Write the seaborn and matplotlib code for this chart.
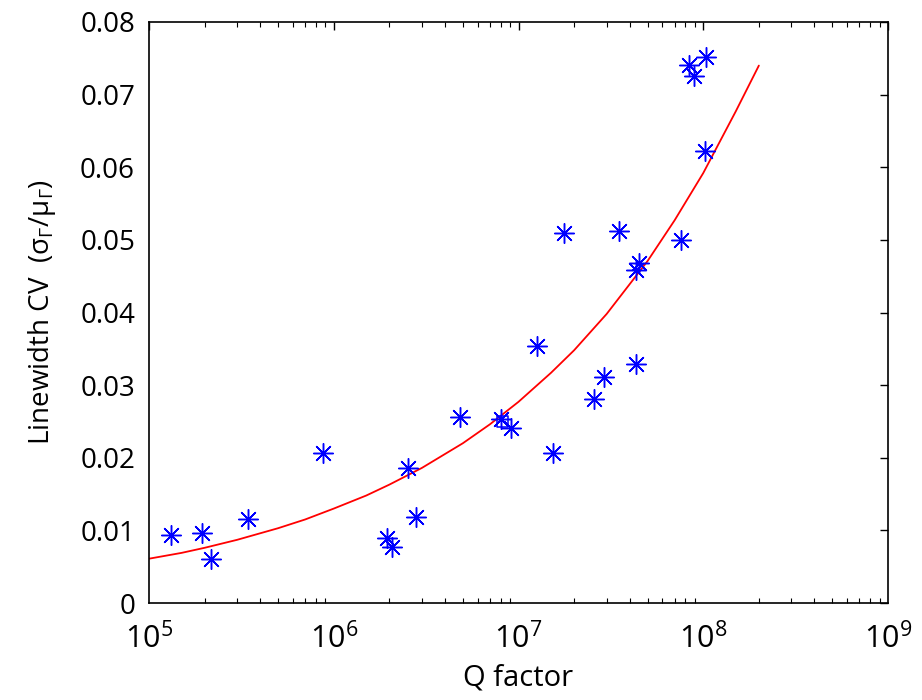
import numpy as np
import pandas as pd
import matplotlib
matplotlib.use("Agg")
import matplotlib.pyplot as plt
import seaborn as sns
from matplotlib.ticker import LogLocator, LogFormatterMathtext, FixedFormatter, FixedLocator

# --- data ---
q_factor = [1.31e5, 1.93e5, 2.16e5, 3.42e5, 8.8e5, 1.93e6, 2.07e6, 2.52e6, 2.79e6,
            4.8e6, 8.0e6, 9.06e6, 1.26e7, 1.53e7, 1.77e7, 2.56e7, 2.92e7, 3.52e7,
            4.32e7, 4.32e7, 4.47e7, 7.57e7, 8.4e7, 8.87e7, 1.02e8, 1.04e8]
linewidth_cv = [0.0093, 0.0097, 0.0061, 0.0116, 0.0207, 0.0089, 0.0077, 0.0186, 0.0119,
                0.0256, 0.0253, 0.0241, 0.0354, 0.0206, 0.0509, 0.0281, 0.0311, 0.0512,
                0.0329, 0.0459, 0.0468, 0.0500, 0.0741, 0.0726, 0.0622, 0.0752]

highlight_q = [8.2e6]
highlight_cv = [0.0250]

fit_q = [1e5, 1.5e5, 2e5, 3e5, 5e5, 7e5, 1e6, 1.5e6, 2e6, 3e6, 5e6, 7e6,
         1e7, 1.5e7, 2e7, 3e7, 5e7, 7e7, 1e8, 1.5e8, 2e8]
fit_cv = [0.0061, 0.0069, 0.0076, 0.0087, 0.0103, 0.0115, 0.0130, 0.0148, 0.0163,
          0.0186, 0.0220, 0.0246, 0.0277, 0.0317, 0.0348, 0.0398, 0.0471, 0.0527,
          0.0592, 0.0677, 0.0740]

y_ticks = [0, 0.01, 0.02, 0.03, 0.04, 0.05, 0.06, 0.07, 0.08]
y_ticklabels = ["0", "0.01", "0.02", "0.03", "0.04", "0.05", "0.06", "0.07", "0.08"]

df_pts = pd.DataFrame({"Q": q_factor, "CV": linewidth_cv})
df_fit = pd.DataFrame({"Q": fit_q, "CV": fit_cv})
df_hl = pd.DataFrame({"Q": highlight_q, "CV": highlight_cv})

sns.set_style("white")
plt.rcParams["font.family"] = ["Open Sans", "DejaVu Sans"]
plt.rcParams["mathtext.default"] = "regular"
plt.rcParams["text.color"] = "black"
plt.rcParams["axes.labelcolor"] = "black"
plt.rcParams["xtick.color"] = "black"
plt.rcParams["ytick.color"] = "black"

fig = plt.figure(figsize=(9.22, 7.0), dpi=100)
ax = fig.add_axes([149/922, 97/700, (888-149)/922, (603-22)/700])

sns.lineplot(data=df_fit, x="Q", y="CV", ax=ax, color="red", linewidth=1.3, zorder=2)
sns.scatterplot(data=df_pts, x="Q", y="CV", ax=ax, marker=(8, 2, 0), s=200,
                color="blue", linewidth=1.05, zorder=3)
sns.scatterplot(data=df_hl, x="Q", y="CV", ax=ax, marker="s", s=70,
                facecolor="none", edgecolor="blue", linewidth=1.1, zorder=3)

ax.set_xscale("log")
ax.set_xlim(1e5, 1e9)
ax.set_ylim(0, 0.08)
ax.xaxis.set_major_locator(LogLocator(base=10, numticks=10))
ax.xaxis.set_major_formatter(LogFormatterMathtext())
ax.xaxis.set_minor_locator(LogLocator(base=10, subs=np.arange(2, 10), numticks=20))
ax.yaxis.set_major_locator(FixedLocator(y_ticks))
ax.yaxis.set_major_formatter(FixedFormatter(y_ticklabels))

for s in ax.spines.values():
    s.set_visible(True)
    s.set_color("black")
    s.set_linewidth(1.2)

ax.tick_params(axis="both", which="major", direction="in", length=6, width=1,
               top=True, right=True, labelsize=20, pad=10, colors="black")
ax.tick_params(axis="x", which="minor", direction="in", length=3.5, width=0.8,
               top=True, bottom=True)
ax.tick_params(axis="x", which="major", labelsize=22, pad=14)

ax.set_xlabel("Q factor", fontsize=21, labelpad=6)
ax.set_ylabel(r"Linewidth CV  ($\sigma_\Gamma/\mu_\Gamma$)", fontsize=20, labelpad=16)
ax.grid(False)

fig.savefig("out.png", dpi=100)
